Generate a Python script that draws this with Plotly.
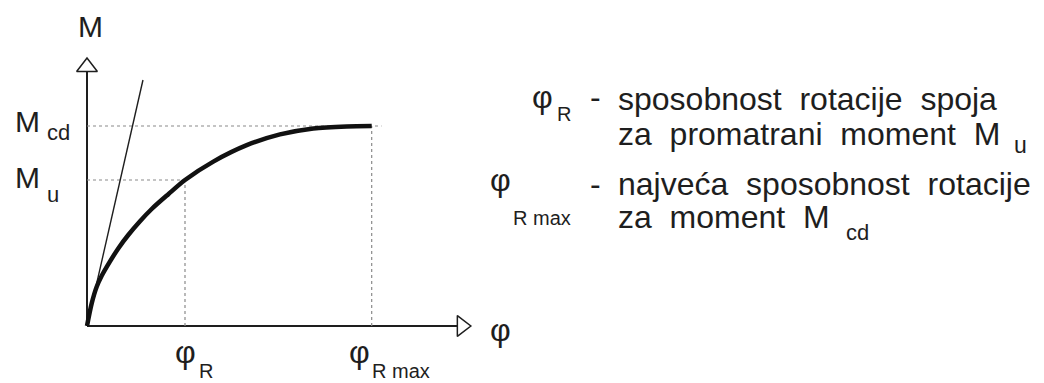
import plotly.graph_objects as go

# --- podaci (jedinice: phi_R = 1, M_cd = 1) ---
phi_curve = [0, 0.048, 0.099, 0.15, 0.235, 0.319, 0.421, 0.541, 0.66, 0.83,
             1.0, 1.289, 1.63, 1.969, 2.309, 2.65, 2.905]
M_curve = [0, 0.113, 0.196, 0.251, 0.323, 0.388, 0.455, 0.524, 0.585, 0.659,
           0.73, 0.822, 0.904, 0.958, 0.988, 0.998, 1.0]

PHI_R = 1.0
PHI_RMAX = 2.905
M_U = 0.73
M_CD = 1.0

tangent_phi = [0, 0.571]
tangent_M = [0, 1.23]

# krajevi osi
X_END = 3.78
Y_END = 1.275

# stranica ima marginu od 8 px, pa je slika za toliko manja
PAD = 8
W, H = 1044 - PAD, 383 - PAD
OX, OY = 87, 326          # ishodiste u pikselima referentne slike
SX, SY = 98, 200          # piksela po jedinici

INK = "#1e1e1e"
GRID = "#8a8a8a"
FONT = "Liberation Sans, Arial, sans-serif"

fig = go.Figure()

# osi
fig.add_trace(go.Scatter(x=[0, 0], y=[0, Y_END], mode="lines",
                         line=dict(color=INK, width=2)))
fig.add_trace(go.Scatter(x=[0, X_END], y=[0, 0], mode="lines",
                         line=dict(color=INK, width=2)))
fig.add_trace(go.Scatter(x=[0], y=[Y_END + 0.02], mode="markers",
                         marker=dict(symbol="triangle-up", size=18, color="white",
                                     line=dict(color=INK, width=1.5))))
fig.add_trace(go.Scatter(x=[X_END + 0.045], y=[0], mode="markers",
                         marker=dict(symbol="triangle-right", size=18, color="white",
                                     line=dict(color=INK, width=1.5))))

# pomocne tockaste linije
dot = dict(color=GRID, width=1.2, dash="dot")
fig.add_trace(go.Scatter(x=[0, PHI_RMAX + 0.1], y=[M_CD, M_CD], mode="lines", line=dot))
fig.add_trace(go.Scatter(x=[0, PHI_R], y=[M_U, M_U], mode="lines", line=dot))
fig.add_trace(go.Scatter(x=[PHI_R, PHI_R], y=[0, M_U], mode="lines", line=dot))
fig.add_trace(go.Scatter(x=[PHI_RMAX, PHI_RMAX], y=[0, M_CD], mode="lines", line=dot))

# tangenta i krivulja
fig.add_trace(go.Scatter(x=tangent_phi, y=tangent_M, mode="lines",
                         line=dict(color=INK, width=1.4)))
fig.add_trace(go.Scatter(x=phi_curve, y=M_curve, mode="lines",
                         line=dict(color="#111111", width=4.5, shape="spline", smoothing=0.8)))


def lab(text, px, py, size=30, anchor="center"):
    fig.add_annotation(text=text, x=(px - PAD) / W, y=1 - (py - PAD) / H,
                       xref="paper", yref="paper",
                       xanchor=anchor, yanchor="middle", showarrow=False,
                       font=dict(family=FONT, size=size, color=INK))


# oznake uz dijagram
lab("M", 90, 27)
lab("M", 27, 121)
lab("cd", 58, 132, 22)
lab("M", 27, 177)
lab("u", 53, 194, 22)
lab("φ", 185, 352, 32)
lab("R", 206, 371, 20)
lab("φ", 359, 352, 32)
lab("R max", 370, 371, 20, "left")
lab("φ", 500, 330, 32)

# legenda s desne strane
sp = "\u00a0\u00a0"
lab("φ", 542, 97, 32)
lab("R", 564, 114, 20)
lab("-", 595, 97, 32)
lab(sp.join(["sposobnost", "rotacije", "spoja"]), 616, 99, 32, "left")
lab(sp.join(["za", "promatrani", "moment", "M"]), 616, 134, 32, "left")
lab("u", 1020, 145, 23)

lab("φ", 500, 180, 32)
lab("R max", 511, 218, 20, "left")
lab("-", 595, 184, 32)
lab(sp.join(["najveća", "sposobnost", "rotacije"]), 616, 184, 32, "left")
lab(sp.join(["za", "moment", "M"]), 616, 217, 32, "left")
lab("cd", 857, 232, 22)

fig.update_xaxes(range=[(PAD - OX) / SX, (1044 - OX) / SX], visible=False, fixedrange=True)
fig.update_yaxes(range=[(OY - 383) / SY, (OY - PAD) / SY], visible=False, fixedrange=True)
fig.update_layout(width=W, height=H, margin=dict(l=0, r=0, t=0, b=0),
                  paper_bgcolor="white", plot_bgcolor="white", showlegend=False)

fig.write_html("out.html")
